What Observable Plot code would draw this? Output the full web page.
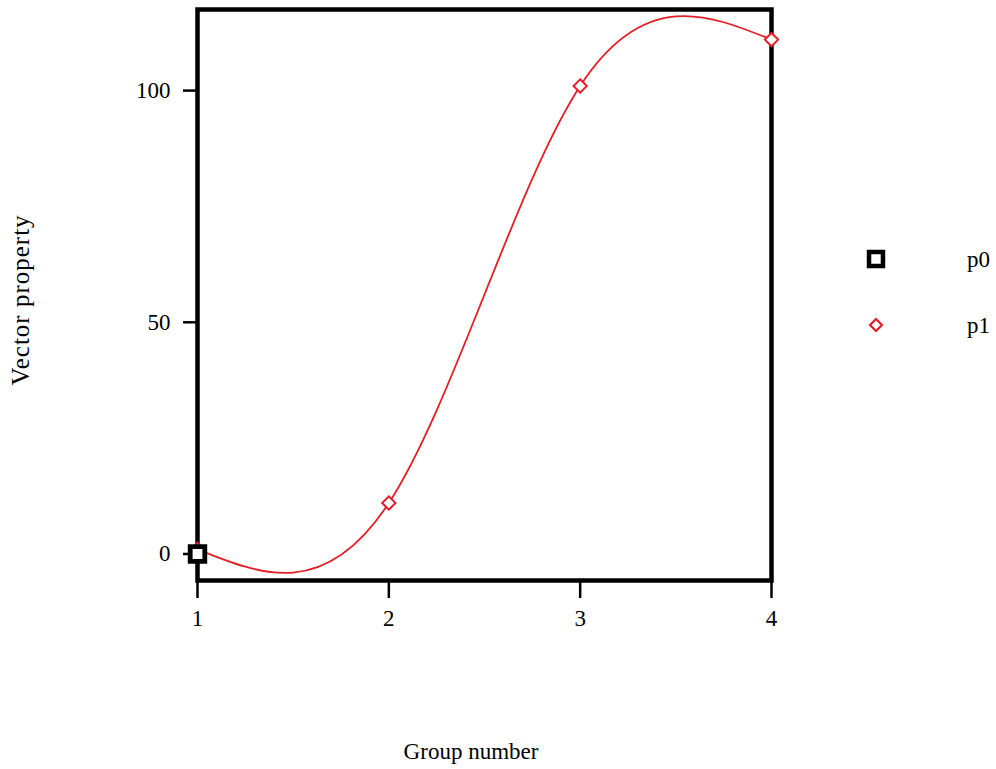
<!DOCTYPE html>
<html>
<head>
<meta charset="utf-8">
<script src="https://cdn.jsdelivr.net/npm/d3@7"></script>
<script src="https://cdn.jsdelivr.net/npm/@observablehq/plot@0.6"></script>
<style>
  html, body { margin: 0; padding: 0; background: #fff; }
  #wrap { position: relative; width: 996px; height: 769px; }
</style>
</head>
<body>
<div id="wrap"></div>
<script>
// ---- data ----
const seriesNames = ["p0", "p1"];
const p0Groups = [1];
const p0Values = [0];
const p1Groups = [1, 2, 3, 4];
const p1Values = [1, 11, 101, 111];
const xTicks = [1, 2, 3, 4];
const yTicks = [0, 50, 100];
const xLabel = "Group number";
const yLabel = "Vector property";

const p0 = p0Groups.map((g, i) => ({group: g, value: p0Values[i]}));
const p1 = p1Groups.map((g, i) => ({group: g, value: p1Values[i]}));

const RED = "#e41e26";
const FONT = "'Liberation Serif', 'Times New Roman', serif";

const chart = Plot.plot({
  width: 996,
  height: 769,
  marginLeft: 197,
  marginRight: 225,
  marginTop: 9,
  marginBottom: 189,
  style: {fontFamily: FONT, fontSize: "23px", color: "#000", background: "#fff"},
  x: {domain: [1, 4]},
  y: {domain: [-5.72, 117.5]},
  marks: [
    Plot.frame({stroke: "#000", strokeWidth: 4.5}),
    Plot.axisY(yTicks, {tickSize: 14, tickPadding: 13, strokeWidth: 2.5, label: null, fontSize: 23, tickFormat: d => String(d)}),
    Plot.axisX(xTicks, {tickSize: 18, tickPadding: 11, strokeWidth: 2.5, label: null, fontSize: 23, tickFormat: d => String(d)}),
    Plot.line(p1, {x: "group", y: "value", curve: "natural", stroke: RED, strokeWidth: 1.8}),
    Plot.dot(p1, {x: "group", y: "value", symbol: "diamond2", r: 6, stroke: RED, strokeWidth: 2, fill: "#fff"}),
    Plot.dot(p0, {x: "group", y: "value", symbol: "square2", r: 9.3, stroke: "#000", strokeWidth: 4.8, fill: "#fff"})
  ]
});

document.getElementById("wrap").appendChild(chart);

const svg = d3.select(chart);
// axis titles
svg.append("text")
  .attr("x", 471).attr("y", 759)
  .attr("text-anchor", "middle")
  .attr("font-family", FONT).attr("font-size", 23)
  .attr("fill", "#000")
  .text(xLabel);
svg.append("text")
  .attr("transform", "translate(29,300) rotate(-90)")
  .attr("text-anchor", "middle")
  .attr("font-family", FONT).attr("font-size", 25)
  .attr("letter-spacing", "1px")
  .attr("fill", "#000")
  .text(yLabel);

// legend
const legendItems = [
  {name: seriesNames[0], type: d3.symbolSquare2, size: 8.9, stroke: "#000", sw: 4.5, cy: 259},
  {name: seriesNames[1], type: d3.symbolDiamond2, size: 5.4, stroke: RED, sw: 2.2, cy: 325}
];
const lg = svg.append("g");
legendItems.forEach(it => {
  lg.append("path")
    .attr("transform", `translate(876,${it.cy})`)
    .attr("d", d3.symbol(it.type, Math.PI * it.size * it.size)())
    .attr("fill", "#fff").attr("stroke", it.stroke).attr("stroke-width", it.sw);
  lg.append("text")
    .attr("x", 967).attr("y", it.cy + 8)
    .attr("text-anchor", "start")
    .attr("font-family", FONT).attr("font-size", 23)
    .attr("fill", "#000")
    .text(it.name);
});
</script>
</body>
</html>
